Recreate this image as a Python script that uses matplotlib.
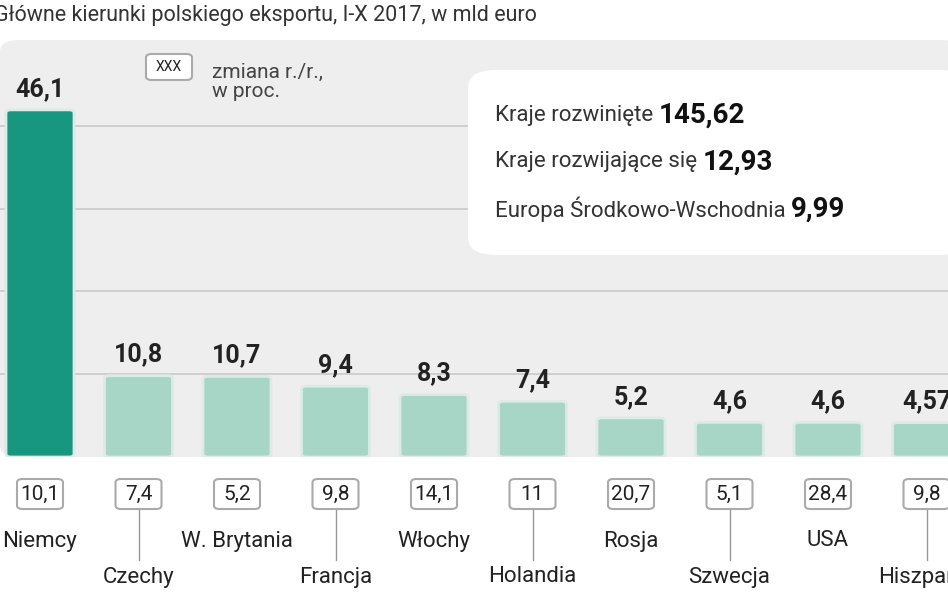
import matplotlib.pyplot as plt
from matplotlib.patches import FancyBboxPatch

countries = ["Niemcy", "Czechy", "W. Brytania", "Francja", "Włochy", "Holandia",
             "Rosja", "Szwecja", "USA", "Hiszpania"]
values = [46.1, 10.8, 10.7, 9.4, 8.3, 7.4, 5.2, 4.6, 4.6, 4.57]
value_labels = ["46,1", "10,8", "10,7", "9,4", "8,3", "7,4", "5,2", "4,6", "4,6", "4,57"]
changes = ["10,1", "7,4", "5,2", "9,8", "14,1", "11", "20,7", "5,1", "28,4", "9,8"]
grid_vals = [11, 22, 33, 44]
groups = ["Kraje rozwinięte", "Kraje rozwijające się", "Europa Środkowo-Wschodnia"]
group_vals = ["145,62", "12,93", "9,99"]

W, H = 948, 593
plt.rcParams["font.family"] = ["Roboto", "DejaVu Sans"]
fig = plt.figure(figsize=(W / 100, H / 100), dpi=100)
fig.patch.set_facecolor("white")

# gray panel behind the bars
bg = FancyBboxPatch((0 / W, (H - 457) / H), 960 / W, (457 - 40) / H,
                    boxstyle="round,pad=0,rounding_size=0.02",
                    transform=fig.transFigure, fc="#eeeeee", ec="none", zorder=-5)
fig.patches.append(bg)

# axes: bottom at bar baseline y=457px, top at y=40px
x0, dx = 40, 98.5
ax = fig.add_axes([0, (H - 457) / H, 1, (457 - 40) / H])
ax.set_xlim(-x0 / dx, (W - x0) / dx)
scale = 7.53
ax.set_ylim(0, (457 - 40) / scale)
ax.axis("off")

for g in grid_vals:
    ax.axhline(g, color="#c9c9c9", lw=1.2, zorder=1)

bw = 68 / dx
for i, (v, lab) in enumerate(zip(values, value_labels)):
    fc = "#17977f" if i == 0 else "#a7d5c6"
    p = FancyBboxPatch((i - bw / 2, 0), bw, v,
                       boxstyle="round,pad=0,rounding_size=0.05",
                       mutation_aspect=scale * dx / 100,
                       fc=fc, ec="#dcebe6", lw=2, zorder=3)
    ax.add_patch(p)
    ax.text(i, v + 1.2, lab, ha="center", va="bottom", fontsize=18,
            fontweight="bold", color="#222222", zorder=4)

# change boxes and country names
bwp, bhp = 46, 30
for i, (c, name) in enumerate(zip(changes, countries)):
    xc = x0 + dx * i
    box = FancyBboxPatch(((xc - bwp / 2) / W, (H - 494 - bhp / 2) / H), bwp / W, bhp / H,
                         boxstyle="round,pad=0,rounding_size=0.006",
                         transform=fig.transFigure, fc="white", ec="#aaaaaa", lw=1.5)
    fig.patches.append(box)
    fig.text(xc / W, (H - 494) / H, c, ha="center", va="center", fontsize=15,
             color="#222222")
    yname = 541 if i % 2 == 0 else 577
    fig.text(xc / W, (H - yname) / H, name, ha="center", va="center",
             fontsize=16, color="#222222")
    if i % 2 == 1:
        fig.lines.append(plt.Line2D([xc / W, xc / W], [(H - 510) / H, (H - 560) / H],
                                    transform=fig.transFigure, color="#999999", lw=1))

# title
fig.text(-0.006, (H - 16) / H, "Główne kierunki polskiego eksportu, I-X 2017, w mld euro",
         ha="left", va="center", fontsize=15.5, color="#333333")

# legend key
kb = FancyBboxPatch((146 / W, (H - 80) / H), 46 / W, 26 / H,
                    boxstyle="round,pad=0,rounding_size=0.006",
                    transform=fig.transFigure, fc="white", ec="#aaaaaa", lw=1.5)
fig.patches.append(kb)
fig.text(169 / W, (H - 67) / H, "XXX", ha="center", va="center", fontsize=10,
         color="#222222")
fig.text(212 / W, (H - 82) / H, "zmiana r./r.,\nw proc.", ha="left", va="center",
         fontsize=15, color="#444444", linespacing=1.05)

# info box
box = FancyBboxPatch((468 / W, (H - 255) / H), 500 / W, 185 / H,
                     boxstyle="round,pad=0,rounding_size=0.03",
                     transform=fig.transFigure, fc="white", ec="none", zorder=5)
fig.patches.append(box)
for k, (g, v) in enumerate(zip(groups, group_vals)):
    y = (H - (115 + 47 * k)) / H
    t = fig.text(495 / W, y, g + " ", ha="left", va="center", fontsize=16,
                 color="#333333", zorder=6)
    fig.canvas.draw()
    bb = t.get_window_extent()
    fig.text(bb.x1 / W, y, v, ha="left", va="center", fontsize=20,
             fontweight="bold", color="#111111", zorder=6)

fig.savefig("out.png", dpi=100)
